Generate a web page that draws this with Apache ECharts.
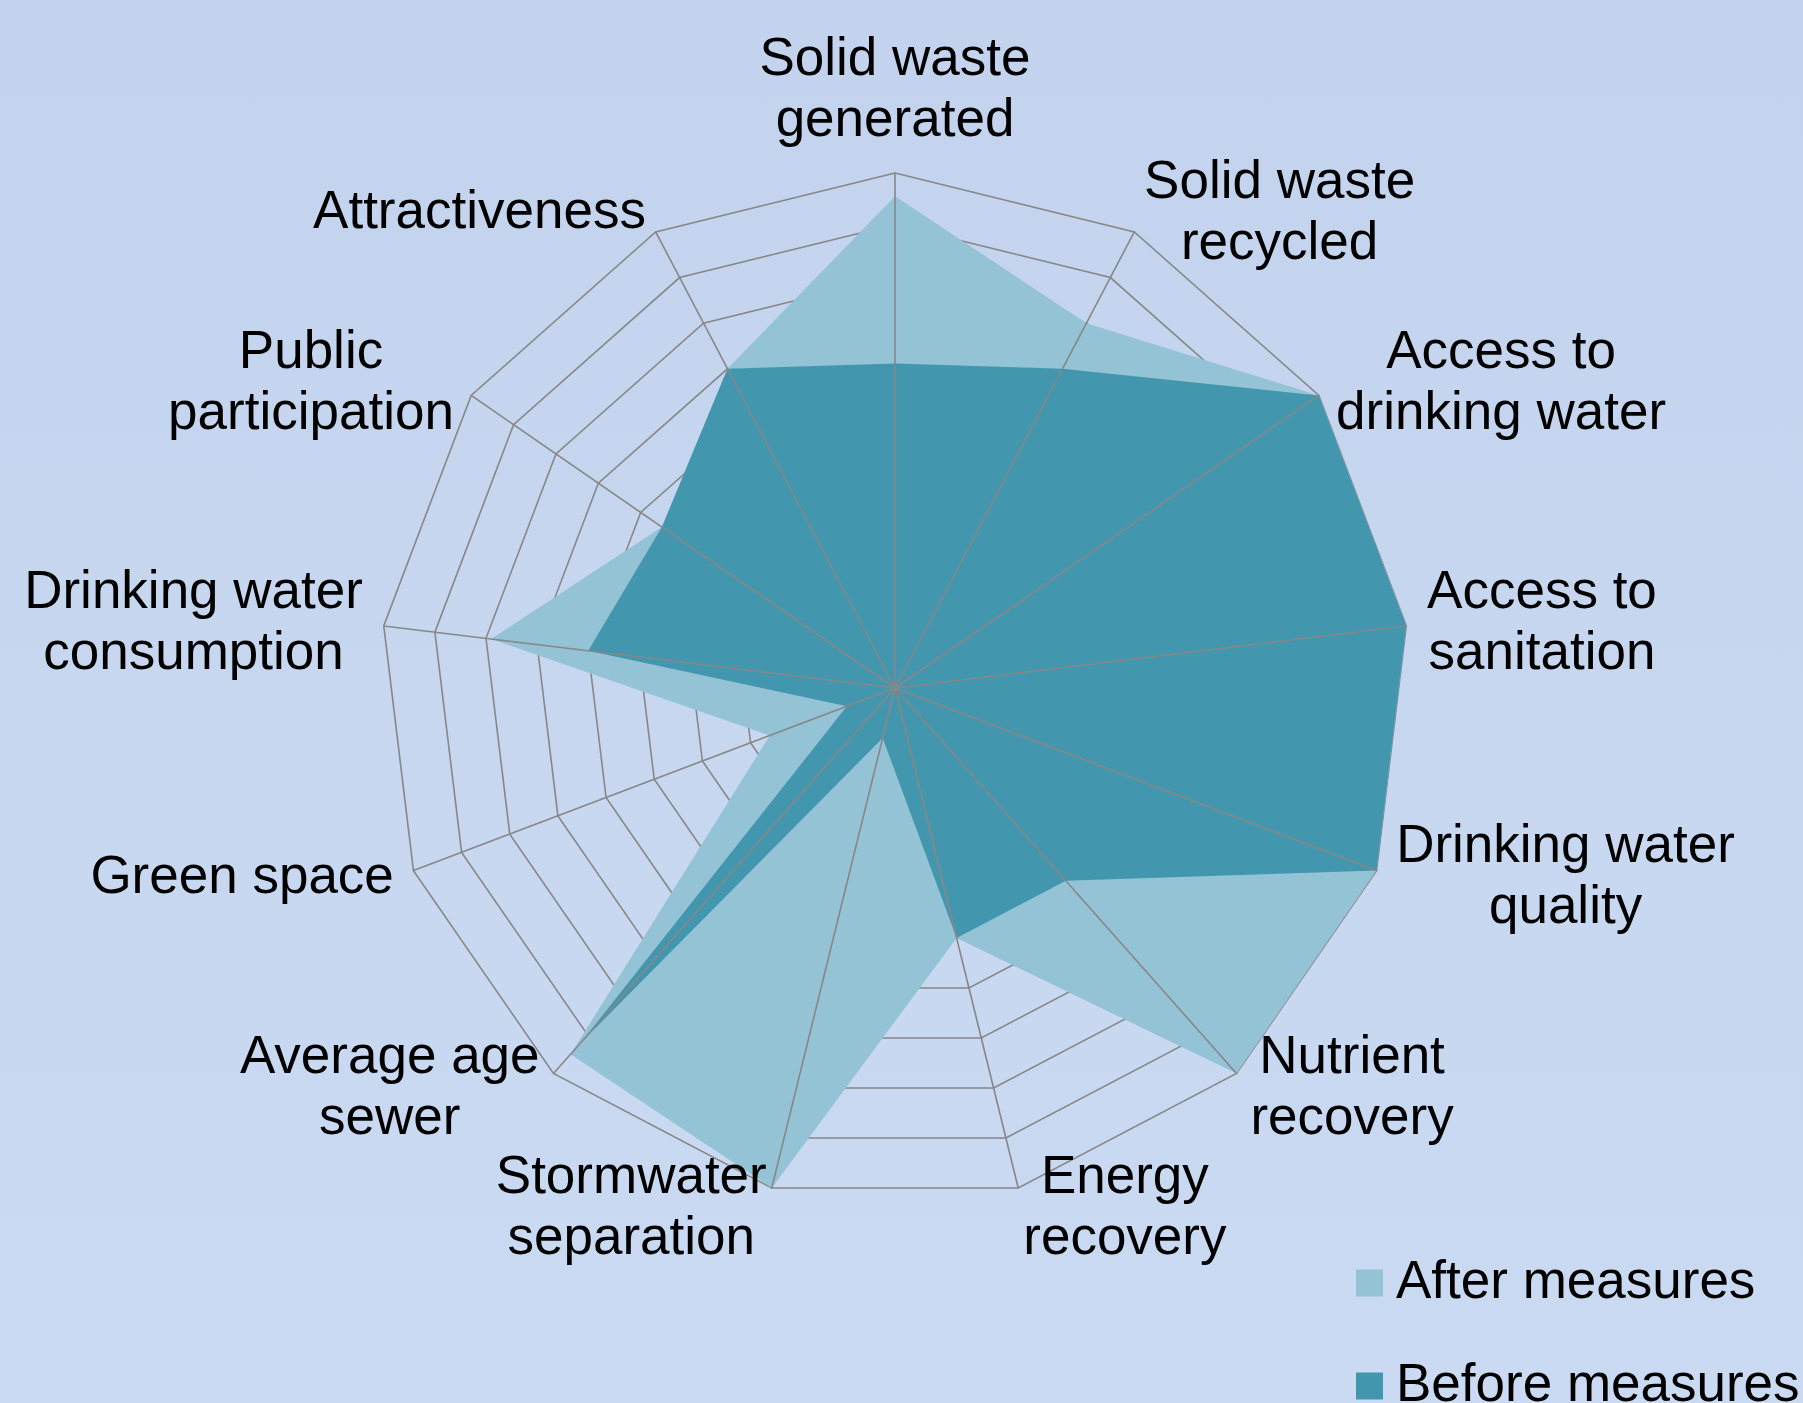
<!DOCTYPE html>
<html>
<head>
<meta charset="utf-8">
<script src="https://cdn.jsdelivr.net/npm/echarts@6/dist/echarts.min.js"></script>
<style>
  html, body { margin: 0; padding: 0; }
  body { width: 1803px; height: 1403px; overflow: hidden;
         background: linear-gradient(180deg, #c3d3ed 0%, #c7d7f0 50%, #cbdaf3 100%); }
  #chart { width: 1803px; height: 1403px; }
</style>
</head>
<body>
<div id="chart"></div>
<script>
// Categories in visual clockwise order starting from the top
const categories = [
  'Solid waste\ngenerated',
  'Solid waste\nrecycled',
  'Access to\ndrinking water',
  'Access to\nsanitation',
  'Drinking water\nquality',
  'Nutrient\nrecovery',
  'Energy\nrecovery',
  'Stormwater\nseparation',
  'Average age\nsewer',
  'Green space',
  'Drinking water\nconsumption',
  'Public\nparticipation',
  'Attractiveness'
];
const seriesNames = ['After measures', 'Before measures'];
const afterValues  = [9.55, 8, 10, 10, 10, 10, 5, 10, 9.5, 2.6, 7.9, 5.5, 7];
const beforeValues = [6.3, 7, 10, 10, 10, 5, 5, 1, 9.2, 1, 6, 5.5, 7];
const axisMax = 10;
const ringCount = 10;

// ECharts places radar indicators counter-clockwise; reorder to get clockwise
function toCcw(arr) { return [arr[0]].concat(arr.slice(1).reverse()); }

const indicators = toCcw(categories).map(n => ({ name: n, min: 0, max: axisMax }));

const FONT = "'Liberation Sans', Arial, Helvetica, sans-serif";
const center = [895, 688];
const radius = 515;
const GRID = '#878787';

const legendText = { fontFamily: FONT, fontSize: 53, color: '#000', lineHeight: 60, padding: [0, 0, 0, 8] };
function legendFor(name, top) {
  return {
    data: [name],
    orient: 'vertical',
    left: 1356,
    top: top,
    padding: 0,
    itemWidth: 27,
    itemHeight: 27,
    icon: 'rect',
    selectedMode: false,
    textStyle: legendText
  };
}

const chart = echarts.init(document.getElementById('chart'), null, { renderer: 'canvas' });
chart.setOption({
  backgroundColor: 'transparent',
  animation: false,
  legend: [legendFor(seriesNames[0], 1253), legendFor(seriesNames[1], 1356)],
  radar: [
    {
      center: center,
      radius: radius,
      startAngle: 90,
      shape: 'polygon',
      splitNumber: ringCount,
      indicator: indicators,
      z: 0,
      axisName: { show: false },
      axisLine: { show: false },
      splitLine: { show: true, lineStyle: { color: GRID, width: 1.6 } },
      splitArea: { show: false }
    },
    {
      center: center,
      radius: radius,
      startAngle: 90,
      shape: 'polygon',
      splitNumber: ringCount,
      indicator: indicators,
      z: 10,
      axisNameGap: 21,
      axisName: {
        color: '#000',
        fontFamily: FONT,
        fontSize: 53,
        lineHeight: 61,
        formatter: function (name) {
          return name.split('\n').map(s => '{c|' + s + '}').join('\n');
        },
        rich: {
          c: { align: 'center', fontFamily: FONT, fontSize: 53, lineHeight: 61, color: '#000' }
        }
      },
      axisLine: { show: true, lineStyle: { color: GRID, width: 1.6 } },
      splitLine: { show: false },
      splitArea: { show: false }
    }
  ],
  series: [
    {
      type: 'radar',
      radarIndex: 0,
      symbol: 'none',
      data: [
        {
          name: seriesNames[0],
          value: toCcw(afterValues),
          itemStyle: { color: '#93c3d5' },
          lineStyle: { width: 0, opacity: 0 },
          areaStyle: { color: '#93c3d5', opacity: 1 }
        },
        {
          name: seriesNames[1],
          value: toCcw(beforeValues),
          itemStyle: { color: '#4297af' },
          lineStyle: { width: 0, opacity: 0 },
          areaStyle: { color: '#4297af', opacity: 1 }
        }
      ]
    }
  ]
});
</script>
</body>
</html>
